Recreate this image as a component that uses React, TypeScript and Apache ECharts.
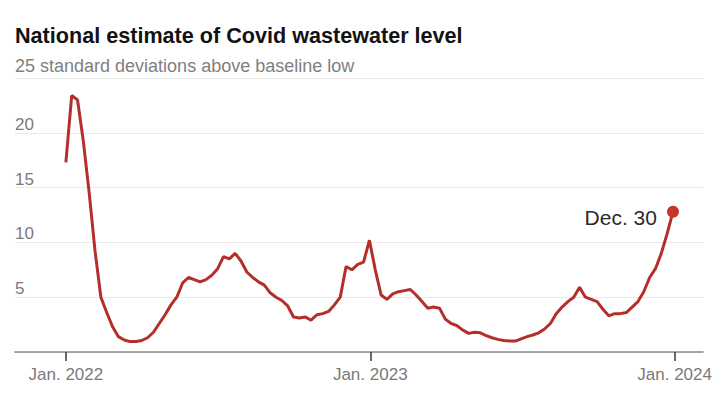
import React, { useEffect, useRef } from "react";
import * as echarts from "echarts";

// Weekly national estimate, week 0 = Jan. 1, 2022, last = Dec. 30, 2023
const weeklyValues: number[] = [
  17.3, 23.4, 23.0, 19.2, 14.5, 9.2, 5.0, 3.6, 2.3, 1.4,
  1.1, 0.95, 0.95, 1.05, 1.3, 1.8, 2.6, 3.4, 4.3, 5.0,
  6.3, 6.8, 6.6, 6.4, 6.6, 7.0, 7.6, 8.7, 8.5, 9.0,
  8.3, 7.3, 6.8, 6.4, 6.1, 5.4, 5.0, 4.7, 4.2, 3.2,
  3.1, 3.2, 2.9, 3.4, 3.5, 3.7, 4.3, 5.0, 7.8, 7.5,
  8.0, 8.2, 10.2, 7.5, 5.2, 4.8, 5.3, 5.5, 5.6, 5.7,
  5.2, 4.6, 4.0, 4.1, 4.0, 3.0, 2.6, 2.4, 2.0, 1.7,
  1.8, 1.75, 1.5, 1.3, 1.15, 1.05, 1.0, 1.0, 1.2, 1.4,
  1.55, 1.75, 2.1, 2.6, 3.5, 4.1, 4.6, 5.0, 5.9, 5.0,
  4.8, 4.6, 3.9, 3.3, 3.5, 3.5, 3.6, 4.1, 4.6, 5.5,
  6.8, 7.6, 9.0, 10.8, 12.8,
];
const daysPerWeek = 7;

// x tick positions (days since Jan. 1, 2022) and their labels
const xTickDays: number[] = [0, 365, 730];
const xTickLabels: string[] = ["Jan. 2022", "Jan. 2023", "Jan. 2024"];
const yTicks: number[] = [0, 5, 10, 15, 20, 25];
const yShownLabels: number[] = [5, 10, 15, 20];

const titleText = "National estimate of Covid wastewater level";
const subtitleText = "25 standard deviations above baseline low";
const endLabel = "Dec. 30";

const FONT = '"Liberation Sans", Arial, Helvetica, sans-serif';

export default function App() {
  const ref = useRef<HTMLDivElement>(null);

  useEffect(() => {
    document.body.style.margin = "0";
    if (!ref.current) return;
    const chart = echarts.init(ref.current, null, { renderer: "svg" });

    const lineData = weeklyValues.map((v, i) => [i * daysPerWeek, v]);
    const last = lineData[lineData.length - 1];

    chart.setOption({
      animation: false,
      backgroundColor: "#ffffff",
      textStyle: { fontFamily: FONT },
      grid: { left: 15, right: 17, top: 78, bottom: 54, containLabel: false },
      graphic: [
        {
          type: "text",
          left: 15,
          top: 24,
          style: {
            text: titleText,
            fontFamily: FONT,
            fontSize: 21.6,
            fontWeight: "bold",
            fill: "#121212",
          },
        },
        {
          type: "text",
          left: 15,
          top: 57,
          style: {
            text: subtitleText,
            fontFamily: FONT,
            fontSize: 18,
            fill: "#808080",
          },
        },
      ],
      xAxis: {
        type: "value",
        min: -61,
        max: 764,
        splitLine: { show: false },
        axisLine: { show: true, lineStyle: { color: "#8a8a8a", width: 1.6 } },
        axisTick: {
          show: true,
          customValues: xTickDays,
          length: 9,
          lineStyle: { color: "#444", width: 1.6 },
        },
        axisLabel: {
          customValues: xTickDays,
          margin: 14,
          fontSize: 17,
          color: "#7a7a7a",
          fontFamily: FONT,
          formatter: (v: number) => {
            const idx = xTickDays.indexOf(v);
            return idx >= 0 ? xTickLabels[idx] : "";
          },
        },
      },
      yAxis: {
        type: "value",
        min: yTicks[0],
        max: yTicks[yTicks.length - 1],
        interval: 5,
        axisLine: { show: false },
        axisTick: { show: false },
        splitLine: { show: true, lineStyle: { color: "#e9e9e9", width: 1 } },
        axisLabel: {
          inside: true,
          margin: 0,
          align: "left",
          verticalAlign: "bottom",
          lineHeight: 17,
          fontSize: 17,
          color: "#7a7a7a",
          fontFamily: FONT,
          formatter: (v: number) => (yShownLabels.indexOf(v) >= 0 ? String(v) : ""),
        },
      },
      series: [
        {
          type: "line",
          data: lineData,
          showSymbol: false,
          smooth: false,
          lineStyle: { color: "#b52f2a", width: 3 },
          z: 2,
        },
        {
          type: "scatter",
          data: [last],
          symbol: "circle",
          symbolSize: 12,
          itemStyle: { color: "#c8352b", opacity: 1 },
          z: 3,
          label: {
            show: true,
            position: "left",
            distance: 10,
            offset: [0, 6],
            formatter: endLabel,
            fontSize: 21,
            color: "#2b2b2b",
            fontFamily: FONT,
          },
        },
      ],
    });

    return () => chart.dispose();
  }, []);

  return (
    <div
      ref={ref}
      style={{ position: "fixed", left: 0, top: 0, width: 720, height: 406 }}
    />
  );
}
